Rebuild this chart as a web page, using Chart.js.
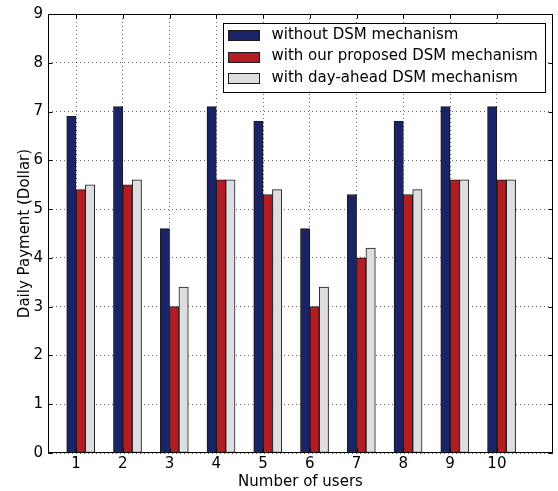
<!DOCTYPE html>
<html>
<head>
<meta charset="utf-8">
<script src="https://cdn.jsdelivr.net/npm/chart.js@4.4.1/dist/chart.umd.min.js"></script>
<style>
    html, body { margin: 0; padding: 0; background: #fff; }
    #wrap { position: relative; width: 558px; height: 491px; }
</style>
</head>
<body>
<div id="wrap"><canvas id="barChart"></canvas></div>
<script>
// Chart data
const users = [1, 2, 3, 4, 5, 6, 7, 8, 9, 10];
const withoutDSM = [6.9, 7.1, 4.6, 7.1, 6.8, 4.6, 5.3, 6.8, 7.1, 7.1];
const proposedDSM = [5.4, 5.5, 3.0, 5.6, 5.3, 3.0, 4.0, 5.3, 5.6, 5.6];
const dayAheadDSM = [5.5, 5.6, 3.4, 5.6, 5.4, 3.4, 4.2, 5.4, 5.6, 5.6];
const yTicks = [0, 1, 2, 3, 4, 5, 6, 7, 8, 9];
const seriesNames = ['without DSM mechanism', 'with our proposed DSM mechanism', 'with day-ahead DSM mechanism'];
const seriesColors = ['#1b2367', '#b21c23', '#dddee0'];

const FONT = '"DejaVu Sans", sans-serif';
Chart.defaults.font.family = FONT;
Chart.defaults.font.size = 15;
Chart.defaults.color = '#000';

// bars sit left of, right of and two widths right of each tick (like matplotlib bar offsets)
const barOffsets = [-0.1, 0.1, 0.3];
function makeDataset(idx, values) {
    return {
        label: seriesNames[idx],
        data: users.map((u, i) => ({ x: u + barOffsets[idx], y: values[i] })),
        backgroundColor: seriesColors[idx],
        borderColor: '#1a1a1a',
        borderWidth: 1,
        borderSkipped: false,
        grouped: false,
        barPercentage: 1,
        categoryPercentage: 1
    };
}

// Frame and inward tick marks on all four sides
const framePlugin = {
    id: 'frame',
    afterDatasetsDraw(chart) {
        const { ctx, chartArea: a, scales } = chart;
        const l = Math.round(a.left) + 0.5, r = Math.round(a.right) - 0.5;
        const t = Math.round(a.top) + 0.5, b = Math.round(a.bottom) - 0.5;
        ctx.save();
        ctx.setLineDash([]);
        ctx.strokeStyle = '#000';
        ctx.lineWidth = 1;
        ctx.beginPath();
        users.forEach(u => {
            const x = Math.round(scales.x.getPixelForValue(u)) + 0.5;
            ctx.moveTo(x, b); ctx.lineTo(x, b - 4);
            ctx.moveTo(x, t); ctx.lineTo(x, t + 4);
        });
        yTicks.forEach(v => {
            const y = Math.round(scales.y.getPixelForValue(v)) + 0.5;
            ctx.moveTo(l, y); ctx.lineTo(l + 4, y);
            ctx.moveTo(r, y); ctx.lineTo(r - 4, y);
        });
        ctx.stroke();
        ctx.strokeRect(l, t, r - l, b - t);
        ctx.restore();
    }
};

// Legend box inside the upper right corner
const legendPlugin = {
    id: 'insideLegend',
    afterDraw(chart) {
        const { ctx, chartArea: a } = chart;
        const boxR = Math.round(a.right) - 7.5;
        const boxL = boxR - 322;
        const boxT = Math.round(a.top) + 9.5;
        const boxH = 69;
        ctx.save();
        ctx.setLineDash([]);
        ctx.fillStyle = '#fff';
        ctx.fillRect(boxL, boxT, boxR - boxL, boxH);
        ctx.strokeStyle = '#000';
        ctx.lineWidth = 1;
        ctx.strokeRect(boxL, boxT, boxR - boxL, boxH);
        ctx.font = '15px ' + FONT;
        ctx.textBaseline = 'middle';
        ctx.textAlign = 'left';
        seriesNames.forEach((name, i) => {
            const cy = boxT + 11.5 + i * 21.5;
            ctx.fillStyle = seriesColors[i];
            ctx.fillRect(boxL + 5, Math.round(cy - 5) + 0.5, 31, 10);
            ctx.strokeStyle = '#1a1a1a';
            ctx.strokeRect(boxL + 5, Math.round(cy - 5) + 0.5, 31, 10);
            ctx.fillStyle = '#000';
            ctx.fillText(name, boxL + 48, cy);
        });
        ctx.restore();
    }
};

const ctx = document.getElementById('barChart');
new Chart(ctx.getContext('2d'), {
    type: 'bar',
    data: {
        datasets: [
            makeDataset(0, withoutDSM),
            makeDataset(1, proposedDSM),
            makeDataset(2, dayAheadDSM)
        ]
    },
    options: {
        responsive: true,
        maintainAspectRatio: false,
        animation: false,
        layout: { padding: { top: 10, right: 5, left: 0, bottom: 0 } },
        plugins: {
            legend: { display: false },
            tooltip: { enabled: false }
        },
        scales: {
            x: {
                type: 'linear',
                min: 0.4,
                max: 11.2,
                offset: false,
                afterBuildTicks(scale) {
                    scale.ticks = users.map(v => ({ value: v }));
                },
                afterFit(scale) { scale.height = 38; },
                ticks: { padding: 2, color: '#000', font: { size: 15 } },
                grid: { offset: false, color: 'rgba(0,0,0,0.6)', lineWidth: 1, drawTicks: false },
                border: { display: false, dash: [1, 3] },
                title: { display: true, text: 'Number of users', color: '#000', font: { size: 15 }, padding: { top: 0, bottom: 0 } }
            },
            y: {
                min: 0,
                max: 9,
                afterBuildTicks(scale) {
                    scale.ticks = yTicks.map(v => ({ value: v }));
                },
                afterFit(scale) { scale.width = 48; },
                ticks: { padding: 5, color: '#000', font: { size: 15 } },
                grid: { color: 'rgba(0,0,0,0.6)', lineWidth: 1, drawTicks: false },
                border: { display: false, dash: [1, 3] },
                title: { display: true, text: 'Daily Payment (Dollar)', color: '#000', font: { size: 15 }, padding: { top: 16, bottom: 0 } }
            }
        }
    },
    plugins: [framePlugin, legendPlugin]
});
</script>
</body>
</html>
